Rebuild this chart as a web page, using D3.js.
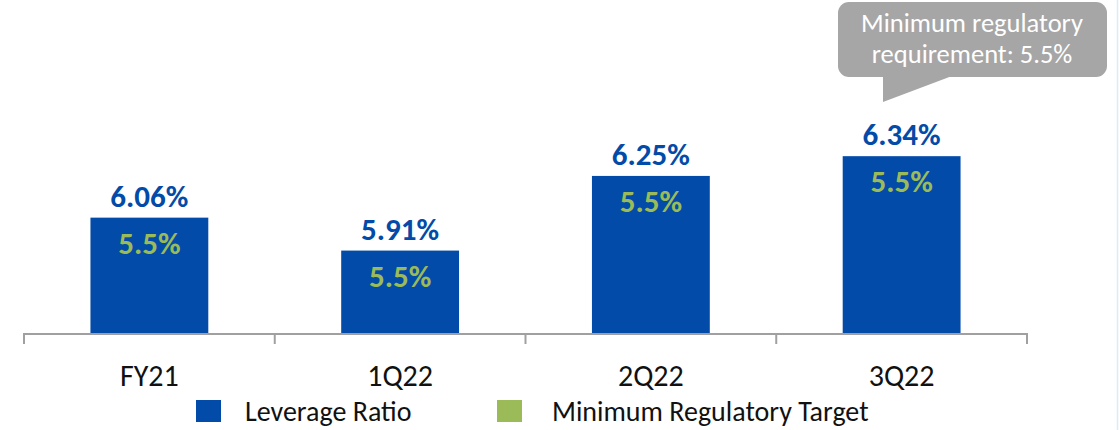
<!DOCTYPE html>
<html>
<head>
<meta charset="utf-8">
<script src="https://cdn.jsdelivr.net/npm/d3@7"></script>
<style>
  html, body { margin: 0; padding: 0; background: #ffffff; }
  svg { display: block; }
  text { font-family: Calibri, Carlito, Lato, "Open Sans", sans-serif; }
</style>
</head>
<body>
<svg id="chart" width="1119" height="430"></svg>
<script>
// Leverage ratio by period, with the minimum regulatory target shown inside each bar
const categories = ["FY21", "1Q22", "2Q22", "3Q22"];
const leverageRatio = [6.06, 5.91, 6.25, 6.34];
const minimumTarget = [5.5, 5.5, 5.5, 5.5];
const seriesNames = ["Leverage Ratio", "Minimum Regulatory Target"];
const calloutLines = ["Minimum regulatory", "requirement: 5.5%"];

const BLUE = "#034BA8";
const GREEN = "#9BBB59";
const AXIS = "#A0A0A0";

const svg = d3.select("#chart");

const x = d3.scaleBand()
  .domain(categories)
  .range([24, 1027])
  .paddingInner(0.53)
  .paddingOuter(0.265);

const y = d3.scaleLinear()
  .domain([5.53, 6.40])
  .range([334, 143]);

const data = categories.map((c, i) => ({ cat: c, value: leverageRatio[i], target: minimumTarget[i] }));

// faint frame edge on the right
svg.append("line")
  .attr("x1", 1117.5).attr("x2", 1117.5)
  .attr("y1", 0).attr("y2", 430)
  .attr("stroke", "#DDEBF8").attr("stroke-width", 1.5);

// bars
svg.append("g").selectAll("rect")
  .data(data)
  .join("rect")
  .attr("x", d => x(d.cat))
  .attr("y", d => y(d.value))
  .attr("width", x.bandwidth())
  .attr("height", d => y.range()[0] - y(d.value))
  .attr("fill", BLUE);

// category axis with tick marks on the group boundaries
const axisG = svg.append("g");
axisG.append("line")
  .attr("x1", 24).attr("x2", 1027)
  .attr("y1", 334).attr("y2", 334)
  .attr("stroke", AXIS).attr("stroke-width", 2);
const [r0, r1] = x.range();
const bounds = d3.range(categories.length + 1).map(i => r0 + i * (r1 - r0) / categories.length);
axisG.selectAll("line.tick")
  .data(bounds)
  .join("line")
  .attr("class", "tick")
  .attr("x1", d => d).attr("x2", d => d)
  .attr("y1", 333).attr("y2", 344)
  .attr("stroke", AXIS).attr("stroke-width", 2);

axisG.selectAll("text.cat")
  .data(categories)
  .join("text")
  .attr("class", "cat")
  .attr("x", d => x(d) + x.bandwidth() / 2)
  .attr("y", 386)
  .attr("text-anchor", "middle")
  .attr("font-size", 30)
  .attr("fill", "#111111")
  .text(d => d);

// value labels above bars
svg.append("g").selectAll("text")
  .data(data)
  .join("text")
  .attr("x", d => x(d.cat) + x.bandwidth() / 2)
  .attr("y", d => y(d.value) - 11)
  .attr("text-anchor", "middle")
  .attr("font-size", 31)
  .attr("font-weight", "bold")
  .attr("fill", BLUE)
  .text(d => d.value.toFixed(2) + "%");

// target labels inside bars
svg.append("g").selectAll("text")
  .data(data)
  .join("text")
  .attr("x", d => x(d.cat) + x.bandwidth() / 2)
  .attr("y", d => y(d.value) + 36)
  .attr("text-anchor", "middle")
  .attr("font-size", 31)
  .attr("font-weight", "bold")
  .attr("fill", GREEN)
  .text(d => d.target + "%");

// callout bubble
const callout = svg.append("g");
callout.append("rect")
  .attr("x", 838).attr("y", 2)
  .attr("width", 269).attr("height", 75)
  .attr("rx", 11).attr("ry", 11)
  .attr("fill", "#A6A6A6");
callout.append("path")
  .attr("d", "M883,76 L883,102 L952,76 Z")
  .attr("fill", "#A6A6A6");
callout.selectAll("text")
  .data(calloutLines)
  .join("text")
  .attr("x", 972)
  .attr("y", (d, i) => 32 + i * 31)
  .attr("text-anchor", "middle")
  .attr("font-size", 26.5)
  .attr("fill", "#ffffff")
  .text(d => d);

// legend
const legendItems = [
  { name: seriesNames[0], color: BLUE, x: 196, tx: 245 },
  { name: seriesNames[1], color: GREEN, x: 497, tx: 552 }
];
const legend = svg.append("g");
legend.selectAll("rect")
  .data(legendItems)
  .join("rect")
  .attr("x", d => d.x).attr("y", 400)
  .attr("width", 25).attr("height", 22)
  .attr("fill", d => d.color);
legend.selectAll("text")
  .data(legendItems)
  .join("text")
  .attr("x", d => d.tx).attr("y", 421)
  .attr("font-size", 28)
  .attr("fill", "#111111")
  .text(d => d.name);
</script>
</body>
</html>
